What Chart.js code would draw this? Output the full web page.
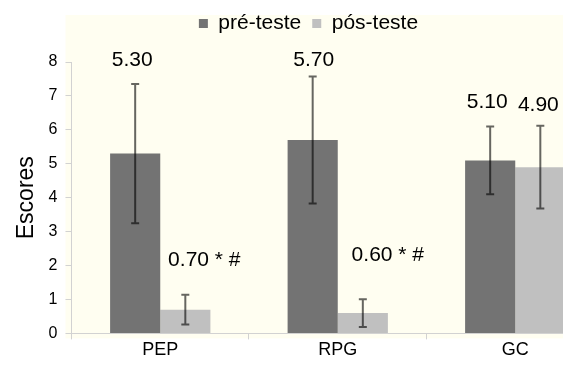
<!DOCTYPE html>
<html>
<head>
<meta charset="utf-8">
<script src="https://cdn.jsdelivr.net/npm/chart.js@4.4.1/dist/chart.umd.min.js"></script>
<style>
  html, body { margin: 0; padding: 0; background: #fff; overflow: hidden; }
  #wrap { position: relative; width: 604px; height: 365px; }
</style>
</head>
<body>
<div id="wrap"><canvas id="chart"></canvas></div>
<script>
"use strict";

// values
const categories = ['PEP', 'RPG', 'GC'];
const seriesNames = ['pré-teste', 'pós-teste'];
const preMean = [5.30, 5.70, 5.10];
const posMean = [0.70, 0.60, 4.90];
const preSD = [2.05, 1.87, 1.00];
const posSD = [0.44, 0.41, 1.22];
const preMarks = ['', '', ''];
const posMarks = [' * #', ' * #', ''];
const yMin = 0;
const yMax = 8;
const yStep = 1;

(() => {
  const FONT = '"Liberation Sans", Arial, Helvetica, sans-serif';
  Chart.defaults.font.family = FONT;
  Chart.defaults.color = '#000';

  const AXIS_GRAY = '#d2d2d2';

  // cream plot frame behind everything
  const backdrop = {
    id: 'backdrop',
    beforeDraw(chart) {
      const {ctx, chartArea: a} = chart;
      ctx.save();
      ctx.fillStyle = '#fffef1';
      ctx.fillRect(a.left - 6, 15, chart.width - a.left + 6, a.bottom + 5 - 15);
      ctx.restore();
    }
  };

  // push the plot down below the legend
  const legendGap = {
    id: 'legendGap',
    beforeInit(chart) {
      const fit = chart.legend.fit;
      chart.legend.fit = function () {
        fit.call(this);
        this.height += 18;
      };
    }
  };

  const errorBars = {
    id: 'errorBars',
    afterDatasetsDraw(chart) {
      const {ctx} = chart;
      const y = chart.scales.y;
      ctx.save();
      ctx.strokeStyle = 'rgba(0,0,0,0.6)';
      ctx.lineWidth = 2;
      chart.data.datasets.forEach((ds, i) => {
        chart.getDatasetMeta(i).data.forEach((bar, j) => {
          const top = y.getPixelForValue(ds.data[j] + ds.sd[j]);
          const bot = y.getPixelForValue(ds.data[j] - ds.sd[j]);
          const x = bar.x;
          ctx.beginPath();
          ctx.moveTo(x, top); ctx.lineTo(x, bot);
          ctx.moveTo(x - 4, top); ctx.lineTo(x + 4, top);
          ctx.moveTo(x - 4, bot); ctx.lineTo(x + 4, bot);
          ctx.stroke();
        });
      });
      ctx.restore();
    }
  };

  // offsets (px) of each value label from the top of its error bar
  const labelOffsets = [
    [{dx: -3, dy: -24}, {dx: 1, dy: -16}, {dx: -3, dy: -24}],
    [{dx: 19, dy: -35}, {dx: 25, dy: -44}, {dx: -2, dy: -21}]
  ];

  const valueLabels = {
    id: 'valueLabels',
    afterDraw(chart) {
      const {ctx} = chart;
      const y = chart.scales.y;
      ctx.save();
      ctx.font = '21px ' + FONT;
      ctx.fillStyle = '#000';
      ctx.textAlign = 'center';
      ctx.textBaseline = 'middle';
      chart.data.datasets.forEach((ds, i) => {
        chart.getDatasetMeta(i).data.forEach((bar, j) => {
          const top = y.getPixelForValue(ds.data[j] + ds.sd[j]);
          const off = labelOffsets[i][j];
          ctx.fillText(ds.data[j].toFixed(2) + ds.marks[j], bar.x + off.dx, top + off.dy);
        });
      });
      ctx.restore();
    }
  };

  new Chart(document.getElementById('chart'), {
    type: 'bar',
    data: {
      labels: categories,
      datasets: [
        {
          label: seriesNames[0],
          data: preMean,
          sd: preSD,
          marks: preMarks,
          backgroundColor: '#737373',
          borderWidth: 0
        },
        {
          label: seriesNames[1],
          data: posMean,
          sd: posSD,
          marks: posMarks,
          backgroundColor: '#c0c0c0',
          borderWidth: 0
        }
      ]
    },
    options: {
      responsive: true,
      maintainAspectRatio: false,
      animation: false,
      layout: {
        padding: {left: 13, right: 0, top: 2, bottom: 4}
      },
      datasets: {
        bar: {categoryPercentage: 0.565, barPercentage: 1}
      },
      plugins: {
        legend: {
          position: 'top',
          labels: {
            boxWidth: 9,
            boxHeight: 9,
            padding: 11,
            color: '#000',
            font: {size: 21}
          }
        },
        tooltip: {enabled: false}
      },
      scales: {
        x: {
          grid: {
            display: true,
            drawOnChartArea: false,
            tickLength: 6,
            color: AXIS_GRAY
          },
          border: {color: AXIS_GRAY},
          ticks: {padding: 0, color: '#000', font: {size: 18}}
        },
        y: {
          min: yMin,
          max: yMax,
          grid: {
            display: true,
            drawOnChartArea: false,
            tickLength: 6,
            color: AXIS_GRAY
          },
          border: {color: AXIS_GRAY},
          ticks: {stepSize: yStep, padding: 8, color: '#000', font: {size: 16}},
          title: {
            display: true,
            text: 'Escores',
            color: '#000',
            font: {size: 23},
            padding: {top: 0, bottom: 0}
          }
        }
      }
    },
    plugins: [backdrop, legendGap, errorBars, valueLabels]
  });
})();
</script>
</body>
</html>
